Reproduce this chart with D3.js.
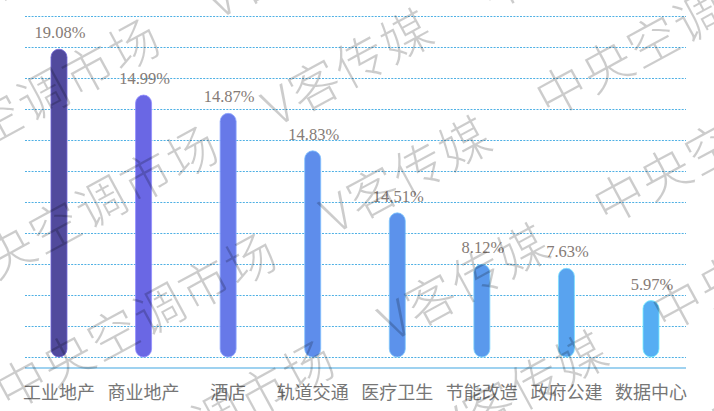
<!DOCTYPE html>
<html>
<head>
<meta charset="utf-8">
<script src="https://cdn.jsdelivr.net/npm/d3@7"></script>
<style>
  html, body { margin: 0; padding: 0; background: #fff; }
  svg { display: block; }
</style>
</head>
<body>
<svg id="chart" width="714" height="411"></svg>
<script>
// ---- data ----
const categories = ["工业地产", "商业地产", "酒店", "轨道交通", "医疗卫生", "节能改造", "政府公建", "数据中心"];
const valueLabels = ["19.08%", "14.99%", "14.87%", "14.83%", "14.51%", "8.12%", "7.63%", "5.97%"];
// bar heights as drawn in the picture, in gridline units
const barLevels = [9.93, 8.45, 7.86, 6.65, 4.65, 2.99, 2.86, 1.82];
const barColors = ["#514a9d", "#6a67e4", "#6779e8", "#5e8deb", "#5c92eb", "#5a99ec", "#59a3ef", "#56aef3"];
const gridTicks = [0, 1, 2, 3, 4, 5, 6, 7, 8, 9, 10, 11];
const watermarkPhrases = ["中央空调市场", "V客传媒"];

const svg = d3.select("#chart");
const W = 714, H = 411;

const x = d3.scaleBand().domain(categories).range([16.7, 693.3]).paddingInner(0).paddingOuter(0);
const y = d3.scaleLinear().domain([0, 11]).range([357, 16]);
const gridX0 = 25, gridX1 = 686, axisY = 368;
const barW = 16;

// gridlines
svg.append("g").selectAll("line").data(gridTicks).join("line")
  .attr("x1", gridX0).attr("x2", gridX1)
  .attr("y1", d => y(d) + 0.5).attr("y2", d => y(d) + 0.5)
  .attr("stroke", "#4fb0e4").attr("stroke-width", 1)
  .attr("stroke-dasharray", "2,1.3");

// axis line
svg.append("line")
  .attr("x1", gridX0).attr("x2", gridX1)
  .attr("y1", axisY).attr("y2", axisY)
  .attr("stroke", "#9fd2f0").attr("stroke-width", 2);

const data = categories.map((c, i) => ({ c, v: barLevels[i], label: valueLabels[i], color: barColors[i] }));

// bars
svg.append("g").selectAll("rect").data(data).join("rect")
  .attr("x", d => x(d.c) + x.bandwidth() / 2 - barW / 2)
  .attr("y", d => y(d.v))
  .attr("width", barW)
  .attr("height", d => y(0) - y(d.v))
  .attr("rx", barW / 2).attr("ry", barW / 2)
  .attr("fill", d => d.color)
  .attr("stroke", d => d3.color(d.color).brighter(0.9))
  .attr("stroke-width", 0.8);

// value labels
svg.append("g").selectAll("text").data(data).join("text")
  .attr("x", d => x(d.c) + x.bandwidth() / 2 + 1)
  .attr("y", d => y(d.v) - 11)
  .attr("text-anchor", "middle")
  .attr("font-family", "'Liberation Serif', 'DejaVu Serif', serif")
  .attr("font-size", 16.5)
  .attr("fill", "#857b76")
  .text(d => d.label);

// category labels
svg.append("g").selectAll("text").data(data).join("text")
  .attr("x", d => x(d.c) + x.bandwidth() / 2)
  .attr("y", 391)
  .attr("dominant-baseline", "central")
  .attr("text-anchor", "middle")
  .attr("font-family", "'Noto Sans CJK SC', sans-serif")
  .attr("font-size", 18)
  .attr("fill", "#767676")
  .text(d => d.c);

// watermark
const wmAngle = -28.5, wmFont = 50, wmSpacing = 2;
const wmPeriod = 614, wmLineGap = 122, wmPerp0 = 100;
const wmStarts = [-189, 181]; // along-offsets of each phrase within one period
const wm = svg.append("g")
  .attr("transform", `rotate(${wmAngle})`)
  .attr("font-family", "'Noto Sans CJK SC', sans-serif")
  .attr("font-weight", 300)
  .attr("font-size", wmFont)
  .attr("letter-spacing", wmSpacing)
  .attr("fill", "#000")
  .attr("fill-opacity", 0.2)
  .style("pointer-events", "none");
const wmItems = [];
for (let j = -1; j <= 5; j++) {
  for (let m = -1; m <= 1; m++) {
    watermarkPhrases.forEach((p, k) => {
      wmItems.push({ text: p, a: wmStarts[k] + m * wmPeriod, p: wmPerp0 + j * wmLineGap });
    });
  }
}
wm.selectAll("text").data(wmItems).join("text")
  .attr("x", d => d.a)
  .attr("y", d => d.p)
  .attr("dominant-baseline", "central")
  .text(d => d.text);
</script>
</body>
</html>
